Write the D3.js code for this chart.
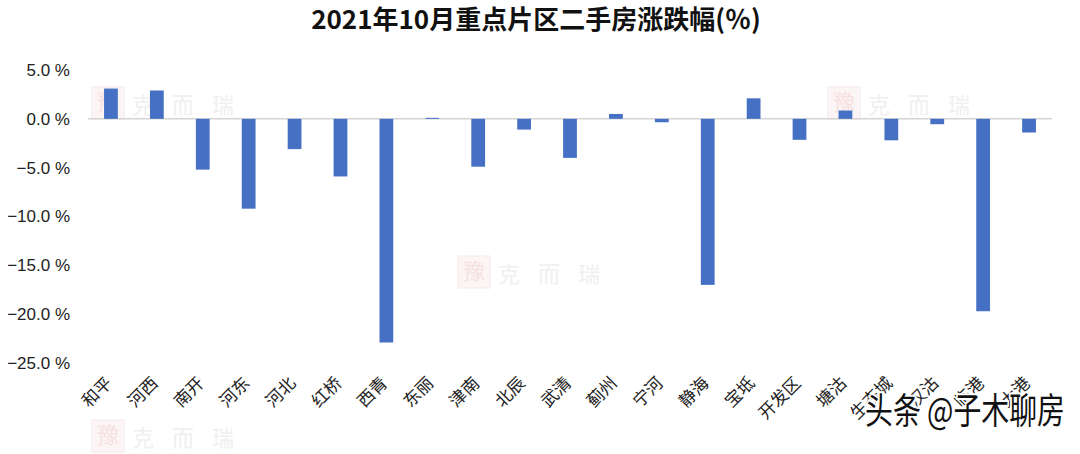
<!DOCTYPE html>
<html>
<head>
<meta charset="utf-8">
<script src="https://cdn.jsdelivr.net/npm/d3@7"></script>
<style>
  html, body { margin: 0; padding: 0; background: #ffffff; }
  svg { display: block; }
</style>
</head>
<body>
<svg id="chart" width="1080" height="454"></svg>
<script>
const title = "2021年10月重点片区二手房涨跌幅(％)";
const categories = ["和平","河西","南开","河东","河北","红桥","西青","东丽","津南","北辰","武清","蓟州","宁河","静海","宝坻","开发区","塘沽","生态城","汉沽","临港","大港"];
const values = [3.1, 2.9, -5.2, -9.2, -3.1, -5.9, -22.9, 0.1, -4.9, -1.1, -4.0, 0.5, -0.35, -17.0, 2.1, -2.15, 0.85, -2.2, -0.55, -19.7, -1.4];
const yTicks = [5, 0, -5, -10, -15, -20, -25];

(function () {
const svg = d3.select("#chart");
const pl = 88, pr = 1052, pt = 70, pb = 363;

const x = d3.scaleBand().domain(categories).range([pl, pr]).padding(0);
const y = d3.scaleLinear().domain([-25, 5]).range([pb, pt]);

// watermarks (faint)
function watermark(wx, wy) {
  const g = svg.append("g").attr("transform", `translate(${wx},${wy})`).attr("opacity", 0.55);
  g.append("rect").attr("x", 0).attr("y", -26).attr("width", 32).attr("height", 32)
    .attr("fill", "#fbeeee").attr("stroke", "#f0d6d6");
  g.append("text").attr("x", 16).attr("y", -3).attr("text-anchor", "middle")
    .attr("font-family", "Noto Sans CJK SC").attr("font-size", 22).attr("fill", "#f0c8c8").text("豫");
  g.append("text").attr("x", 40).attr("y", 0)
    .attr("font-family", "Noto Sans CJK SC").attr("font-size", 22).attr("fill", "#e4e4e4")
    .attr("letter-spacing", 18).text("克而瑞");
}
watermark(92, 113);
watermark(458, 282);
watermark(828, 113);
watermark(92, 446);

// zero line
svg.append("line")
  .attr("x1", pl).attr("x2", pr)
  .attr("y1", y(0)).attr("y2", y(0))
  .attr("stroke", "#d4d4d4").attr("stroke-width", 1.5);

// bars
const bw = x.bandwidth() * 0.3;
svg.append("g").selectAll("rect").data(values).join("rect")
  .attr("x", (d, i) => x(categories[i]) + x.bandwidth() / 2 - bw / 2)
  .attr("y", d => y(Math.max(0, d)))
  .attr("width", bw)
  .attr("height", d => Math.max(1, Math.abs(y(d) - y(0))))
  .attr("fill", "#4570c4");

// y axis
const yAxis = d3.axisLeft(y).tickValues(yTicks).tickSize(0).tickPadding(0)
  .tickFormat(d => d3.format(".1f")(d) + " %");
const ya = svg.append("g").attr("transform", `translate(70,0)`).call(yAxis);
ya.select(".domain").remove();
ya.selectAll("text")
  .attr("font-family", "Liberation Sans, Arial, sans-serif")
  .attr("font-size", 17).attr("fill", "#222");

// x axis labels
const xAxis = d3.axisBottom(x).tickSize(0).tickPadding(0);
const xa = svg.append("g").attr("transform", `translate(0,372)`).call(xAxis);
xa.select(".domain").remove();
xa.selectAll("text")
  .attr("font-family", "Noto Sans CJK SC, sans-serif")
  .attr("font-size", 17).attr("fill", "#222")
  .attr("text-anchor", "end")
  .attr("dy", "0.35em")
  .attr("transform", "translate(-2,8) rotate(-45)");

// title
svg.append("text")
  .attr("x", 536).attr("y", 29).attr("text-anchor", "middle")
  .attr("font-family", "Noto Sans CJK SC, sans-serif").attr("font-weight", 700)
  .attr("font-size", 26).attr("fill", "#111").text(title);

// overlay source watermark
svg.append("text")
  .attr("x", 865).attr("y", 424)
  .attr("font-family", "Noto Sans CJK SC, sans-serif")
  .attr("font-size", 36).attr("fill", "#111")
  .attr("textLength", 200).attr("lengthAdjust", "spacingAndGlyphs")
  .attr("stroke", "#ffffff").attr("stroke-width", 4).attr("paint-order", "stroke")
  .text("头条 @子木聊房");
})();
</script>
</body>
</html>
